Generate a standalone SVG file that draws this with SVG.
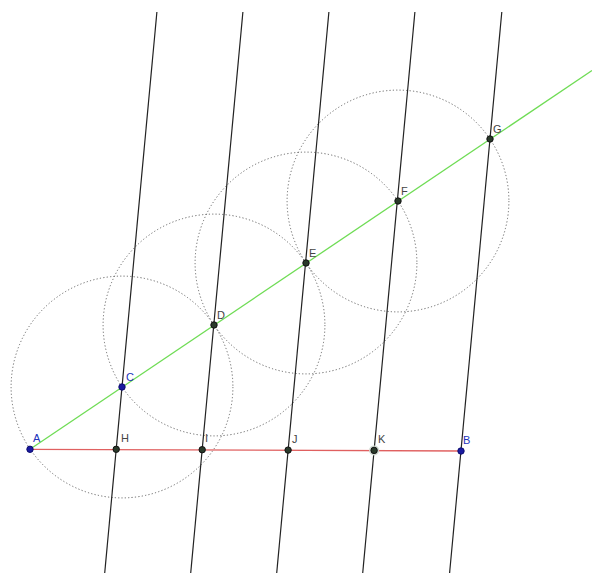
<svg xmlns="http://www.w3.org/2000/svg" width="592" height="573" viewBox="0 0 592 573">
<style>
.circ{fill:none;stroke:#666;stroke-width:1;stroke-dasharray:1.2 2.2}
.par{stroke:#222;stroke-width:1.2}
.pt{stroke-width:1}
.blue{fill:#1a1aa0;stroke:#0d0d70}
.dark{fill:#2a3a2a;stroke:#111}
text{font-family:"Liberation Sans",Arial,sans-serif;font-size:11px}
.lb{fill:#2233bb}
.ld{fill:#444}
</style>
<rect width="592" height="573" fill="#fff"/>
<g id="circles">
<circle class="circ" cx="122" cy="387" r="110.9"/>
<circle class="circ" cx="214" cy="325" r="110.9"/>
<circle class="circ" cx="306" cy="263" r="110.9"/>
<circle class="circ" cx="398" cy="201" r="110.9"/>
</g>
<g id="connectors">
<line class="par" x1="156.9" y1="12" x2="104.7" y2="573"/>
<line class="par" x1="242.9" y1="12" x2="190.7" y2="573"/>
<line class="par" x1="328.9" y1="12" x2="276.7" y2="573"/>
<line class="par" x1="414.9" y1="12" x2="362.7" y2="573"/>
<line class="par" x1="501.8" y1="12" x2="449.6" y2="573"/>
<line x1="30" y1="449.3" x2="592" y2="70.5" stroke="#6fdc55" stroke-width="1.3"/>
<line x1="30" y1="449.3" x2="461" y2="451" stroke="#e06060" stroke-width="1.3"/>
</g>
<g id="A"><circle class="pt blue" cx="30" cy="449.3" r="3.2"/><text class="lb" x="33" y="442">A</text></g>
<g id="B"><circle class="pt blue" cx="461" cy="451" r="3.2"/><text class="lb" x="463" y="444">B</text></g>
<g id="C"><circle class="pt blue" cx="122" cy="387" r="3.2"/><text class="lb" x="126" y="381">C</text></g>
<g id="D"><circle class="pt dark" cx="214" cy="325" r="3.2"/><text class="ld" x="217" y="319">D</text></g>
<g id="E"><circle class="pt dark" cx="306" cy="263" r="3.2"/><text class="ld" x="309" y="257">E</text></g>
<g id="F"><circle class="pt dark" cx="398" cy="201" r="3.2"/><text class="ld" x="401" y="195">F</text></g>
<g id="G"><circle class="pt dark" cx="490" cy="139" r="3.2"/><text class="ld" x="493" y="133">G</text></g>
<g id="H"><circle class="pt dark" cx="116.2" cy="449.3" r="3.2"/><text class="ld" x="121" y="442">H</text></g>
<g id="I"><circle class="pt dark" cx="202.2" cy="449.7" r="3.2"/><text class="ld" x="205" y="442">I</text></g>
<g id="J"><circle class="pt dark" cx="288.1" cy="450.1" r="3.2"/><text class="ld" x="292" y="443">J</text></g>
<g id="K"><circle cx="374.1" cy="450.4" r="5" fill="#cfd8cf"/><circle class="pt dark" cx="374.1" cy="450.4" r="3.2"/><text class="ld" x="378" y="443">K</text></g>
</svg>
